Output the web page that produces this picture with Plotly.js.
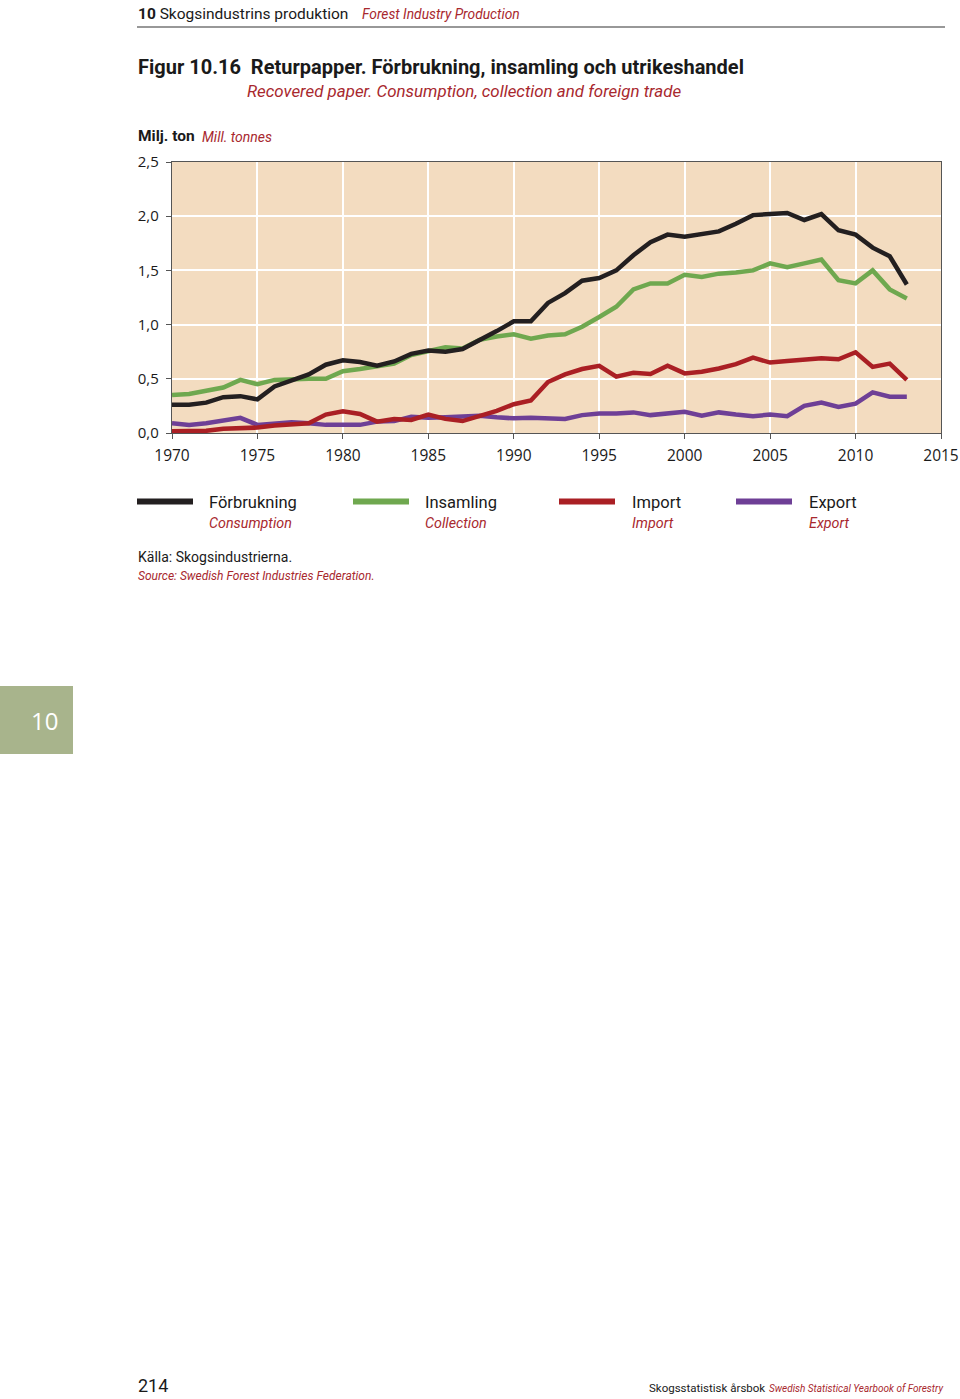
<!DOCTYPE html>
<html>
<head>
<meta charset="utf-8">
<script src="https://cdn.plot.ly/plotly-3.0.1.min.js"></script>
<style>
html,body{margin:0;padding:0;background:#fff;}
#chart{width:960px;height:1399px;}
</style>
</head>
<body>
<div id="chart"></div>
<script>
const years = [1970,1971,1972,1973,1974,1975,1976,1977,1978,1979,1980,1981,1982,1983,1984,1985,1986,1987,1988,1989,1990,1991,1992,1993,1994,1995,1996,1997,1998,1999,2000,2001,2002,2003,2004,2005,2006,2007,2008,2009,2010,2011,2012,2013];
const forbrukning = [0.26,0.26,0.28,0.33,0.34,0.31,0.43,0.48,0.54,0.63,0.67,0.655,0.62,0.66,0.73,0.76,0.75,0.775,0.855,0.94,1.03,1.03,1.20,1.29,1.405,1.43,1.50,1.64,1.76,1.83,1.81,1.83,1.86,1.93,2.01,2.02,2.03,1.965,2.02,1.87,1.83,1.71,1.63,1.37];
const insamling = [0.35,0.36,0.39,0.42,0.49,0.45,0.49,0.50,0.50,0.50,0.57,0.59,0.61,0.64,0.72,0.76,0.79,0.78,0.86,0.89,0.91,0.87,0.90,0.91,0.98,1.07,1.165,1.325,1.38,1.38,1.46,1.44,1.47,1.48,1.50,1.565,1.53,1.565,1.60,1.41,1.38,1.50,1.325,1.24];
const importVals = [0.015,0.015,0.02,0.04,0.04,0.05,0.07,0.08,0.09,0.17,0.20,0.175,0.105,0.13,0.12,0.17,0.13,0.11,0.155,0.205,0.265,0.30,0.47,0.54,0.59,0.62,0.52,0.555,0.545,0.62,0.55,0.565,0.595,0.635,0.695,0.65,0.665,0.675,0.69,0.68,0.745,0.61,0.64,0.49];
const exportVals = [0.09,0.075,0.09,0.12,0.14,0.075,0.09,0.10,0.09,0.075,0.075,0.075,0.105,0.11,0.15,0.14,0.145,0.15,0.16,0.145,0.135,0.14,0.135,0.13,0.165,0.18,0.18,0.19,0.165,0.18,0.195,0.16,0.19,0.17,0.155,0.17,0.155,0.25,0.28,0.24,0.27,0.375,0.335,0.335];

const seriesNames = ["Förbrukning","Insamling","Import","Export"];
const seriesNamesEn = ["Consumption","Collection","Import","Export"];
const seriesColors = ["#231f20","#6fa84f","#aa1f24","#6e3f96"];
const seriesData = [forbrukning, insamling, importVals, exportVals];
const yTickVals = [0,0.5,1.0,1.5,2.0,2.5];
const yTickText = ["0,0","0,5","1,0","1,5","2,0","2,5"];
const xTickVals = [1970,1975,1980,1985,1990,1995,2000,2005,2010,2015];

const W = 960, H = 1399;
const px = x => x / W;
const py = y => 1 - y / H;
const RED = "#a8282e";
const FONT = "Roboto, Arial, sans-serif";

const order = [3,2,1,0];
const traces = order.map(i => ({
  x: years, y: seriesData[i], type: "scatter", mode: "lines",
  name: seriesNames[i], showlegend: false,
  line: {color: seriesColors[i], width: 4.5, shape: "linear"},
  hoverinfo: "skip"
}));

const annotations = [];
const shapes = [];
function ann(x, y, text, size, color, opts) {
  annotations.push(Object.assign({
    xref: "paper", yref: "paper", x: px(x), y: py(y), text: text,
    showarrow: false, xanchor: "left", yanchor: "middle",
    font: {family: FONT, size: size, color: color || "#1a1a1a"}
  }, opts || {}));
}

// Header
ann(136, 14, "<b>10</b> Skogsindustrins produktion", 15.5);
ann(360, 14.5, "<i>Forest Industry Production</i>", 13.8, RED);
shapes.push({type: "line", xref: "paper", yref: "paper", x0: px(137), x1: px(945), y0: py(27), y1: py(27), line: {color: "#333", width: 1.2}});
// Title
ann(136, 67, "<b>Figur 10.16  Returpapper. Förbrukning, insamling och utrikeshandel</b>", 20);
ann(245, 91, "<i>Recovered paper. Consumption, collection and foreign trade</i>", 16.9, RED);
// Unit
ann(136, 136, "<b>Milj. ton</b>", 15.5);
ann(200, 136.5, "<i>Mill. tonnes</i>", 14, RED);

// Legend
const legX = [137, 353, 559, 736];
const legTX = [207, 423, 630, 807];
for (let i = 0; i < 4; i++) {
  shapes.push({type: "line", xref: "paper", yref: "paper", x0: px(legX[i]), x1: px(legX[i] + 56), y0: py(501.5), y1: py(501.5), line: {color: seriesColors[i], width: 6}});
  ann(legTX[i], 503, seriesNames[i], 16.5);
  ann(legTX[i], 523.5, "<i>" + seriesNamesEn[i] + "</i>", 14.3, RED);
}

// Source
ann(136, 557, "Källa: Skogsindustrierna.", 14);
ann(136, 575.5, "<i>Source: Swedish Forest Industries Federation.</i>", 12, RED);

// Side tab
shapes.push({type: "rect", xref: "paper", yref: "paper", x0: 0, x1: px(73), y0: py(754), y1: py(686), line: {width: 0}, fillcolor: "#a8b48c"});
ann(44, 720, "10", 24, "#ffffff", {xanchor: "center", font: {family: "Open Sans, sans-serif", size: 24, color: "#ffffff"}});

// Footer
ann(136, 1385, "214", 18);
ann(945, 1388.5, "<i>Swedish Statistical Yearbook of Forestry</i>", 10, RED, {xanchor: "right"});
ann(767, 1388, "Skogsstatistisk årsbok", 11.5, "#1a1a1a", {xanchor: "right"});

const layout = {
  width: W, height: H,
  margin: {l: 0, r: 0, t: 0, b: 0},
  paper_bgcolor: "#ffffff",
  plot_bgcolor: "#f3dcc0",
  showlegend: false,
  font: {family: "Open Sans, sans-serif", color: "#1a1a1a"},
  xaxis: {
    domain: [px(172), px(941)], range: [1970, 2015],
    tickvals: xTickVals, ticks: "outside", ticklen: 5, tickcolor: "#555",
    showline: true, linecolor: "#555", linewidth: 1.2, mirror: true,
    showgrid: true, gridcolor: "#ffffff", gridwidth: 2,
    zeroline: false, tickfont: {family: "Open Sans, sans-serif", size: 15.5, color: "#1a1a1a"},
    ticklabelstandoff: 3,
    fixedrange: true
  },
  yaxis: {
    domain: [py(433), py(162)], range: [0, 2.5],
    tickvals: yTickVals, ticktext: yTickText, ticks: "outside", ticklen: 5, tickcolor: "#555",
    showline: true, linecolor: "#555", linewidth: 1.2, mirror: true,
    showgrid: true, gridcolor: "#ffffff", gridwidth: 2,
    zeroline: false, tickfont: {family: "Open Sans, sans-serif", size: 15, color: "#1a1a1a"},
    ticklabelstandoff: 4,
    fixedrange: true
  },
  annotations: annotations,
  shapes: shapes
};

Plotly.newPlot("chart", traces, layout, {displayModeBar: false, staticPlot: true});
</script>
</body>
</html>
